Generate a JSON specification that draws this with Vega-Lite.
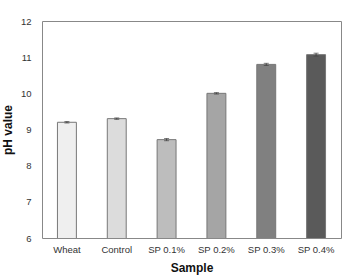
{
  "$schema": "https://vega.github.io/schema/vega-lite/v6.json",
  "width": 299,
  "height": 217,
  "autosize": {"type": "none"},
  "padding": {"left": 42, "top": 21, "right": 3, "bottom": 39},
  "data": {"values": [
    {"Sample": "Wheat", "pH": 9.2, "err": 0.02},
    {"Sample": "Control", "pH": 9.3, "err": 0.02},
    {"Sample": "SP 0.1%", "pH": 8.72, "err": 0.03},
    {"Sample": "SP 0.2%", "pH": 10.0, "err": 0.02},
    {"Sample": "SP 0.3%", "pH": 10.8, "err": 0.03},
    {"Sample": "SP 0.4%", "pH": 11.07, "err": 0.04}
  ]},
  "config": {
    "font": "Liberation Sans",
    "view": {"stroke": "#888888", "strokeWidth": 1},
    "axis": {"grid": false, "domain": false, "ticks": false, "labelColor": "#333333", "labelFontSize": 9.5, "titleFontSize": 12, "titleFontWeight": "bold", "titleColor": "#111111"}
  },
  "encoding": {
    "x": {"field": "Sample", "type": "nominal", "sort": null,
      "scale": {"paddingInner": 0.62, "paddingOuter": 0.31},
      "axis": {"labelAngle": 0, "labelPadding": 6, "titlePadding": 9, "title": "Sample"}}
  },
  "layer": [
    {
      "mark": {"type": "bar", "stroke": "#777777", "strokeWidth": 1, "clip": true},
      "encoding": {
        "y": {"field": "pH", "type": "quantitative", "scale": {"domain": [6, 12]},
          "axis": {"title": "pH value", "tickCount": 6, "labelPadding": 11, "titlePadding": 6}},
        "fill": {"field": "Sample", "type": "nominal", "sort": null, "legend": null,
          "scale": {"range": ["#efefef", "#dcdcdc", "#bdbdbd", "#a5a5a5", "#808080", "#5a5a5a"]}}
      }
    },
    {
      "mark": {"type": "errorbar", "ticks": {"size": 5, "color": "#444444"}, "rule": {"color": "#444444"}},
      "encoding": {
        "y": {"field": "pH", "type": "quantitative", "title": "pH value"},
        "yError": {"field": "err"}
      }
    }
  ]
}
